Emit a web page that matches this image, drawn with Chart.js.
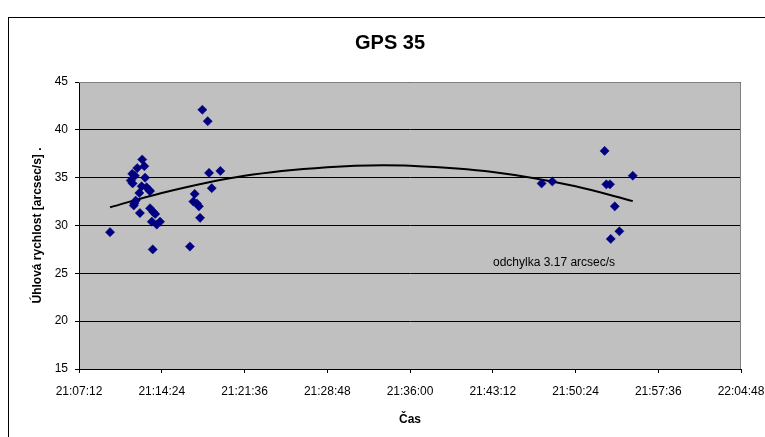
<!DOCTYPE html>
<html><head><meta charset="utf-8">
<script src="https://cdn.jsdelivr.net/npm/chart.js@4/dist/chart.umd.min.js"></script>
<style>html,body{margin:0;padding:0;background:#fff;}#wrap{width:765px;height:437px;position:relative;}</style>
</head><body><div id="wrap"><canvas id="c" width="765" height="437"></canvas></div>
<script>
const chartTitle = "GPS 35";
const xTitle = "Čas";
const yTitle = "Úhlová rychlost [arcsec/s] .";
const noteText = "odchylka 3.17 arcsec/s";
const xTickLabels = ["21:07:12","21:14:24","21:21:36","21:28:48","21:36:00","21:43:12","21:50:24","21:57:36","22:04:48"];
const yTicks = [15,20,25,30,35,40,45];
const times = [
 "21:09:54","21:11:42","21:11:50","21:11:52","21:11:58","21:12:01","21:12:04","21:12:08","21:12:16","21:12:27",
 "21:12:30","21:12:39","21:12:42","21:12:53","21:12:57","21:13:05","21:13:18","21:13:23","21:13:23","21:13:32",
 "21:13:37","21:13:40","21:13:50","21:13:58","21:14:15",
 "21:16:51","21:17:09","21:17:16","21:17:28","21:17:38","21:17:44","21:17:56","21:18:24","21:18:31","21:18:45","21:19:30",
 "21:47:27","21:48:23","21:52:56","21:53:05","21:53:24","21:53:28","21:53:49","21:54:13","21:55:23"
];
const speeds = [
 29.3,34.7,35.4,34.4,32.1,32.3,35.2,32.6,36.0,33.4,
 31.3,34.1,36.9,36.2,35.0,34.0,33.7,33.6,31.8,30.4,
 27.5,31.4,31.2,30.1,30.4,
 27.8,32.5,33.3,32.3,32.0,30.8,42.1,40.9,35.5,33.9,35.7,
 34.4,34.6,37.8,34.3,34.3,28.6,32.0,29.4,35.2
];
// polynomial trend line
const trendTimes = ["21:09:54","21:14:24","21:21:36","21:28:48","21:33:40","21:36:00","21:43:12","21:50:24","21:55:23"];
const trendValues = [31.9,33.4,35.2,36.1,36.3,36.25,35.6,34.1,32.55];

function toSec(s){const p=s.split(':').map(Number);return p[0]*3600+p[1]*60+p[2];}
function fmt(v){v=Math.round(v);const h=Math.floor(v/3600),m=Math.floor((v%3600)/60),s=v%60;const z=n=>String(n).padStart(2,'0');return z(h)+':'+z(m)+':'+z(s);}
const pts = times.map((t,i)=>({x:toSec(t),y:speeds[i]}));
const trend = trendTimes.map((t,i)=>({x:toSec(t),y:trendValues[i]}));
const xMin = toSec(xTickLabels[0]), xMax = toSec(xTickLabels[xTickLabels.length-1]);
const FONT='"Liberation Sans", Arial, sans-serif';

const framePlugin = {
  id:'frame',
  beforeDraw(chart){
    const ctx=chart.ctx, a=chart.chartArea;
    ctx.save();
    ctx.fillStyle='#fff';ctx.fillRect(0,0,chart.width,chart.height);
    ctx.strokeStyle='#000';ctx.lineWidth=1;
    ctx.strokeRect(8.5,17.5,800,500);
    ctx.fillStyle='#c0c0c0';ctx.fillRect(a.left,a.top,a.right-a.left,a.bottom-a.top);
    ctx.restore();
  },
  afterDatasetsDraw(chart){
    const ctx=chart.ctx, a=chart.chartArea;
    ctx.save();
    ctx.strokeStyle='#808080';ctx.lineWidth=1;
    ctx.beginPath();ctx.moveTo(a.left,a.top+0.5);ctx.lineTo(a.right-0.5,a.top+0.5);ctx.lineTo(a.right-0.5,a.bottom);ctx.stroke();
    ctx.fillStyle='#000';
    ctx.font='12px '+FONT;ctx.textAlign='left';ctx.textBaseline='middle';
    ctx.fillText(noteText,493,263);
    ctx.font='bold 20px '+FONT;ctx.textAlign='center';ctx.textBaseline='middle';
    ctx.fillText(chartTitle,390,43);
    ctx.restore();
  }
};

new Chart(document.getElementById('c'),{
  type:'scatter',
  data:{datasets:[
    {type:'line',data:trend,borderColor:'#000',borderWidth:2,pointRadius:0,cubicInterpolationMode:'monotone',fill:false,order:1},
    {data:pts,pointStyle:'rectRot',pointRadius:4.6,pointBorderWidth:0.5,backgroundColor:'#000080',borderColor:'#000080',order:0}
  ]},
  options:{
    responsive:false,animation:false,devicePixelRatio:1,
    layout:{padding:{left:5,right:24,top:82,bottom:0}},
    plugins:{legend:{display:false},tooltip:{enabled:false},title:{display:false}},
    scales:{
      x:{type:'linear',min:xMin,max:xMax,
        afterBuildTicks(s){s.ticks=xTickLabels.map(t=>({value:toSec(t)}));},
        afterFit(s){s.height=68;s.paddingLeft=0;s.paddingRight=0;},
        ticks:{callback:v=>fmt(v),color:'#000',font:{family:FONT,size:12},padding:11,maxRotation:0,autoSkip:false},
        grid:{display:true,drawOnChartArea:false,drawTicks:true,tickLength:4,color:'#000'},
        border:{display:true,color:'#000',width:1},
        title:{display:true,text:xTitle,color:'#000',font:{family:FONT,size:12,weight:'bold'},padding:{top:4,bottom:10}}
      },
      y:{min:15,max:45,
        afterBuildTicks(s){s.ticks=yTicks.map(v=>({value:v}));},
        afterFit(s){s.width=74;s.paddingTop=0;s.paddingBottom=0;},
        ticks:{color:'#000',font:{family:FONT,size:12},padding:7},
        grid:{color:'#000',lineWidth:1,tickLength:4,drawTicks:true},
        border:{display:true,color:'#000',width:1},
        title:{display:true,text:yTitle,color:'#000',font:{family:FONT,size:12,weight:'bold'},padding:{top:25,bottom:0}}
      }
    }
  },
  plugins:[framePlugin]
});
</script></body></html>
